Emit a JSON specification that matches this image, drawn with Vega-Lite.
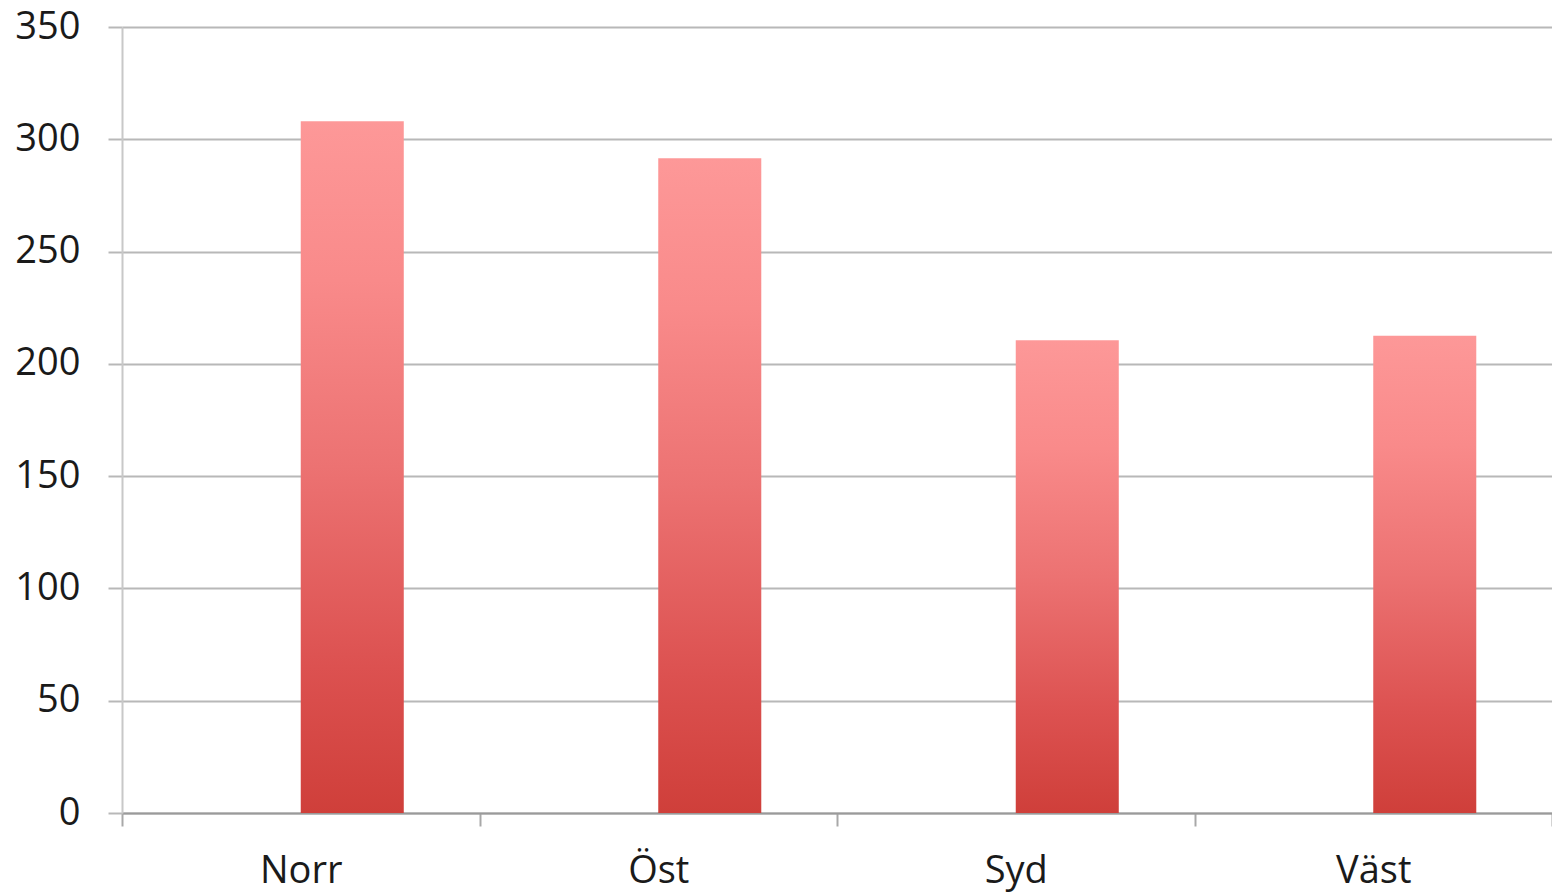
{
  "$schema": "https://vega.github.io/schema/vega-lite/v6.json",
  "autosize": {"type": "none"},
  "padding": {"left": 122, "top": 27, "right": 0, "bottom": 79},
  "width": 1430,
  "height": 786,
  "background": "white",
  "config": {
    "view": {"stroke": null},
    "font": "Open Sans"
  },
  "data": {
    "values": [
      {"region": "Norr", "series": "B", "value": 308},
      {"region": "Öst", "series": "B", "value": 291.5},
      {"region": "Syd", "series": "B", "value": 210.5},
      {"region": "Väst", "series": "B", "value": 212.5}
    ]
  },
  "mark": {
    "type": "bar",
    "color": {
      "gradient": "linear",
      "x1": 0, "y1": 0, "x2": 0, "y2": 1,
      "stops": [
        {"offset": 0, "color": "#fd9898"},
        {"offset": 0.23, "color": "#f98a8a"},
        {"offset": 0.5, "color": "#ec7272"},
        {"offset": 0.79, "color": "#dc5150"},
        {"offset": 1, "color": "#cf3f3a"}
      ]
    }
  },
  "encoding": {
    "x": {
      "field": "region",
      "type": "nominal",
      "sort": ["Norr", "Öst", "Syd", "Väst"],
      "scale": {"paddingInner": 0, "paddingOuter": 0},
      "axis": {
        "title": null,
        "labelAngle": 0,
        "labelFontSize": 38,
        "labelColor": "#1a1a1a",
        "labelPadding": 26,
        "tickBand": "extent",
        "tickSize": 13,
        "tickColor": "#a8a8a8",
        "tickWidth": 2,
        "domainColor": "#9a9a9a",
        "domainWidth": 2,
        "grid": false
      }
    },
    "xOffset": {
      "field": "series",
      "type": "nominal",
      "scale": {"domain": ["A", "B"], "paddingInner": 0, "paddingOuter": 0.735}
    },
    "y": {
      "field": "value",
      "type": "quantitative",
      "scale": {"domain": [0, 350], "nice": false},
      "axis": {
        "title": null,
        "values": [0, 50, 100, 150, 200, 250, 300, 350],
        "labelFontSize": 38,
        "labelColor": "#1a1a1a",
        "labelPadding": 28,
        "tickSize": 14,
        "tickColor": "#b8b8b8",
        "tickWidth": 2,
        "domainColor": "#c8c8c8",
        "domainWidth": 2,
        "gridColor": "#b8b8b8",
        "gridWidth": 2
      }
    }
  }
}
